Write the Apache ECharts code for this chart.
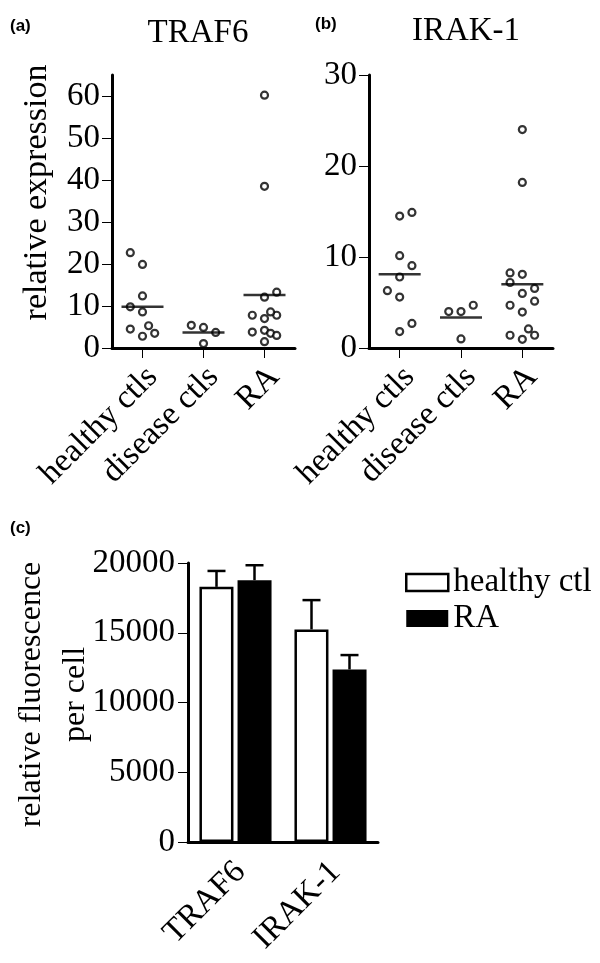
<!DOCTYPE html>
<html><head><meta charset="utf-8">
<script src="https://cdn.jsdelivr.net/npm/echarts@6/dist/echarts.min.js"></script>
<style>html,body{margin:0;padding:0;background:#fff}#c{width:600px;height:963px}</style>
</head><body><div id="c"></div>
<script>
// ---- data ----
const groups = ['healthy ctls', 'disease ctls', 'RA'];
const traf6AxisMax = 65, irakMax = 30, exprStep = 10;

const traf6Healthy = [22.7, 19.9, 12.4, 9.8, 8.6, 4.5, 5.3, 2.8, 3.5];
const traf6HealthyJitter = [-0.2, 0, 0, -0.2, 0, -0.2, 0.1, 0, 0.2];
const traf6Disease = [5.4, 4.9, 3.7, 1.05];
const traf6DiseaseJitter = [-0.2, 0, 0.2, 0];
const traf6RA = [60.2, 38.5, 13.3, 12.1, 7.8, 7.8, 8.6, 7.0, 3.8, 4.2, 3.5, 3.0, 1.5];
const traf6RAJitter = [0, 0, 0.2, 0, -0.2, 0.2, 0.1, 0, -0.2, 0, 0.1, 0.2, 0];
const traf6Medians = [9.8, 3.7, 12.6];

const irakHealthy = [14.5, 14.9, 10.15, 9.05, 7.8, 6.3, 5.6, 2.7, 1.8];
const irakHealthyJitter = [0, 0.2, 0, 0.2, 0, -0.2, 0, 0.2, 0];
const irakDisease = [4.0, 4.0, 4.7, 1.0];
const irakDiseaseJitter = [-0.2, 0, 0.2, 0];
const irakRA = [24.0, 18.2, 8.25, 8.1, 7.2, 6.55, 6.0, 5.15, 4.7, 3.95, 2.1, 1.4, 1.4, 0.95];
const irakRAJitter = [0, 0, -0.2, 0, -0.2, 0.2, 0, 0.2, -0.2, 0, 0.1, -0.2, 0.2, 0];
const irakMedians = [8.1, 3.35, 7.0];

const proteins = ['TRAF6', 'IRAK-1'];
const healthyMean = [18290, 15240];
const healthySEM = [1140, 2100];
const raMean = [18770, 12370];
const raSEM = [1070, 1030];
const fluoMax = 20000, fluoStep = 5000;

// ---- helpers ----
const SERIF = 'Liberation Serif';
const FS = 33;
function pts(g, vals, jit) { return vals.map((v, i) => [g + jit[i], v]); }
function medPts(m) { return m.map((v, i) => [i, v]); }
function axLine() { return { show: true, onZero: false, lineStyle: { color: '#000', width: 3 } }; }
function tick() { return { show: true, length: 10, lineStyle: { color: '#000' } }; }
function lbl(margin) { return { show: true, margin: margin, color: '#000', fontSize: FS, fontFamily: SERIF, formatter: v => String(v) }; }
const off = { show: false };

function dataX(grid) {
  return { type: 'value', gridIndex: grid, min: -0.5, max: 2.5, axisLine: axLine(), axisTick: off, axisLabel: off, splitLine: off };
}
function catAxis(grid, data, withTicks, margin, shift, gap) {
  return {
    type: 'category', gridIndex: grid, data: data, boundaryGap: gap,
    axisLine: axLine(),
    axisTick: withTicks ? tick() : off,
    axisLabel: { show: true, rotate: 45, margin: margin, interval: 0, color: '#000', fontSize: FS, fontFamily: SERIF, padding: [0, -shift, 0, 0] },
    splitLine: off
  };
}
const circle = { color: '#fff', borderColor: '#000', borderWidth: 2.2 };
function scat(xi, yi, data) {
  return { type: 'scatter', xAxisIndex: xi, yAxisIndex: yi, data: data, symbol: 'circle', symbolSize: 7, itemStyle: circle, z: 3, silent: true, clip: false };
}
function med(xi, yi, data) {
  return { type: 'scatter', xAxisIndex: xi, yAxisIndex: yi, data: data, symbol: 'rect', symbolSize: [42, 2.5], itemStyle: { color: '#000' }, z: 4, silent: true, clip: false };
}
const BARW = 34;
function errRender(offset) {
  return function (params, api) {
    const c = api.coord([api.value(0), api.value(1)]);
    const t = api.coord([api.value(0), api.value(1) + api.value(2)]);
    const x = c[0] + offset;
    return { type: 'group', children: [
      { type: 'line', shape: { x1: x, y1: c[1], x2: x, y2: t[1] }, style: { stroke: '#000', lineWidth: 2.5 } },
      { type: 'line', shape: { x1: x - 9, y1: t[1], x2: x + 9, y2: t[1] }, style: { stroke: '#000', lineWidth: 2.5 } }
    ] };
  };
}

const chart = echarts.init(document.getElementById('c'), null, { renderer: 'canvas' });
chart.setOption({
  animation: false,
  backgroundColor: '#fff',
  textStyle: { fontFamily: SERIF, color: '#000' },
  grid: [
    { left: 112, top: 75, width: 183, height: 273 },          // panel a data
    { left: 142.5, top: 75, width: 122, height: 273 },        // panel a category labels
    { left: 369, top: 75, width: 184, height: 273 },          // panel b data
    { left: 399.67, top: 75, width: 122.67, height: 273 },    // panel b category labels
    { left: 188, top: 563, width: 190, height: 279 }          // panel c
  ],
  xAxis: [
    dataX(0),
    catAxis(1, groups, true, 34, 14, false),
    dataX(2),
    catAxis(3, groups, true, 34, 14, false),
    catAxis(4, proteins, false, 30, 7, true)
  ],
  yAxis: [
    { type: 'value', gridIndex: 0, min: 0, max: traf6AxisMax, interval: exprStep,
      axisLine: axLine(), axisTick: tick(), axisLabel: Object.assign(lbl(12), { showMaxLabel: false }), splitLine: off,
      name: 'relative expression', nameLocation: 'middle', nameGap: 58, nameMoveOverlap: false,
      nameTextStyle: { fontSize: 34, fontFamily: SERIF, color: '#000', padding: [0, 0, 0, 38] } },
    { type: 'value', gridIndex: 1, min: 0, max: traf6AxisMax, show: false },
    { type: 'value', gridIndex: 2, min: 0, max: irakMax, interval: exprStep,
      axisLine: axLine(), axisTick: tick(), axisLabel: lbl(12), splitLine: off },
    { type: 'value', gridIndex: 3, min: 0, max: irakMax, show: false },
    { type: 'value', gridIndex: 4, min: 0, max: fluoMax, interval: fluoStep,
      axisLine: axLine(), axisTick: tick(), axisLabel: lbl(13), splitLine: off,
      name: 'relative fluorescence\nper cell', nameLocation: 'middle', nameGap: 90, nameMoveOverlap: false,
      nameTextStyle: { fontSize: 32, lineHeight: 44, fontFamily: SERIF, color: '#000', padding: [0, 0, 0, 16] } }
  ],
  legend: {
    orient: 'vertical', left: 400, top: 561, itemWidth: 42, itemHeight: 17, itemGap: 3,
    textStyle: { fontSize: FS, fontFamily: SERIF, color: '#000' },
    data: [
      { name: 'healthy ctl', icon: 'rect', itemStyle: { color: '#fff', borderColor: '#000', borderWidth: 2.5 } },
      { name: 'RA', icon: 'rect', itemStyle: { color: '#000', borderColor: '#000', borderWidth: 0 } }
    ]
  },
  graphic: [
    { type: 'text', x: 10, y: 26, style: { text: '(a)', font: 'bold 17px "Liberation Sans"', fill: '#000', verticalAlign: 'middle' } },
    { type: 'text', x: 315, y: 24, style: { text: '(b)', font: 'bold 17px "Liberation Sans"', fill: '#000', verticalAlign: 'middle' } },
    { type: 'text', x: 10, y: 528, style: { text: '(c)', font: 'bold 17px "Liberation Sans"', fill: '#000', verticalAlign: 'middle' } },
    { type: 'text', x: 198, y: 33, style: { text: 'TRAF6', font: '33px "Liberation Serif"', fill: '#000', align: 'center', verticalAlign: 'middle' } },
    { type: 'text', x: 466, y: 31, style: { text: 'IRAK-1', font: '33px "Liberation Serif"', fill: '#000', align: 'center', verticalAlign: 'middle' } }
  ],
  series: [
    scat(0, 0, pts(0, traf6Healthy, traf6HealthyJitter)),
    scat(0, 0, pts(1, traf6Disease, traf6DiseaseJitter)),
    scat(0, 0, pts(2, traf6RA, traf6RAJitter)),
    med(0, 0, medPts(traf6Medians)),
    scat(2, 2, pts(0, irakHealthy, irakHealthyJitter)),
    scat(2, 2, pts(1, irakDisease, irakDiseaseJitter)),
    scat(2, 2, pts(2, irakRA, irakRAJitter)),
    med(2, 2, medPts(irakMedians)),
    { type: 'bar', name: 'healthy ctl', xAxisIndex: 4, yAxisIndex: 4, data: healthyMean, barWidth: BARW, barGap: '12%',
      itemStyle: { color: '#fff', borderColor: '#000', borderWidth: 2.5 }, silent: true },
    { type: 'bar', name: 'RA', xAxisIndex: 4, yAxisIndex: 4, data: raMean, barWidth: BARW, barGap: '12%',
      itemStyle: { color: '#000' }, silent: true },
    { type: 'custom', xAxisIndex: 4, yAxisIndex: 4, renderItem: errRender(-(BARW + 4) / 2),
      data: healthyMean.map((m, i) => [i, m, healthySEM[i]]), z: 1, silent: true },
    { type: 'custom', xAxisIndex: 4, yAxisIndex: 4, renderItem: errRender((BARW + 4) / 2),
      data: raMean.map((m, i) => [i, m, raSEM[i]]), z: 1, silent: true }
  ]
});
</script>
</body></html>
